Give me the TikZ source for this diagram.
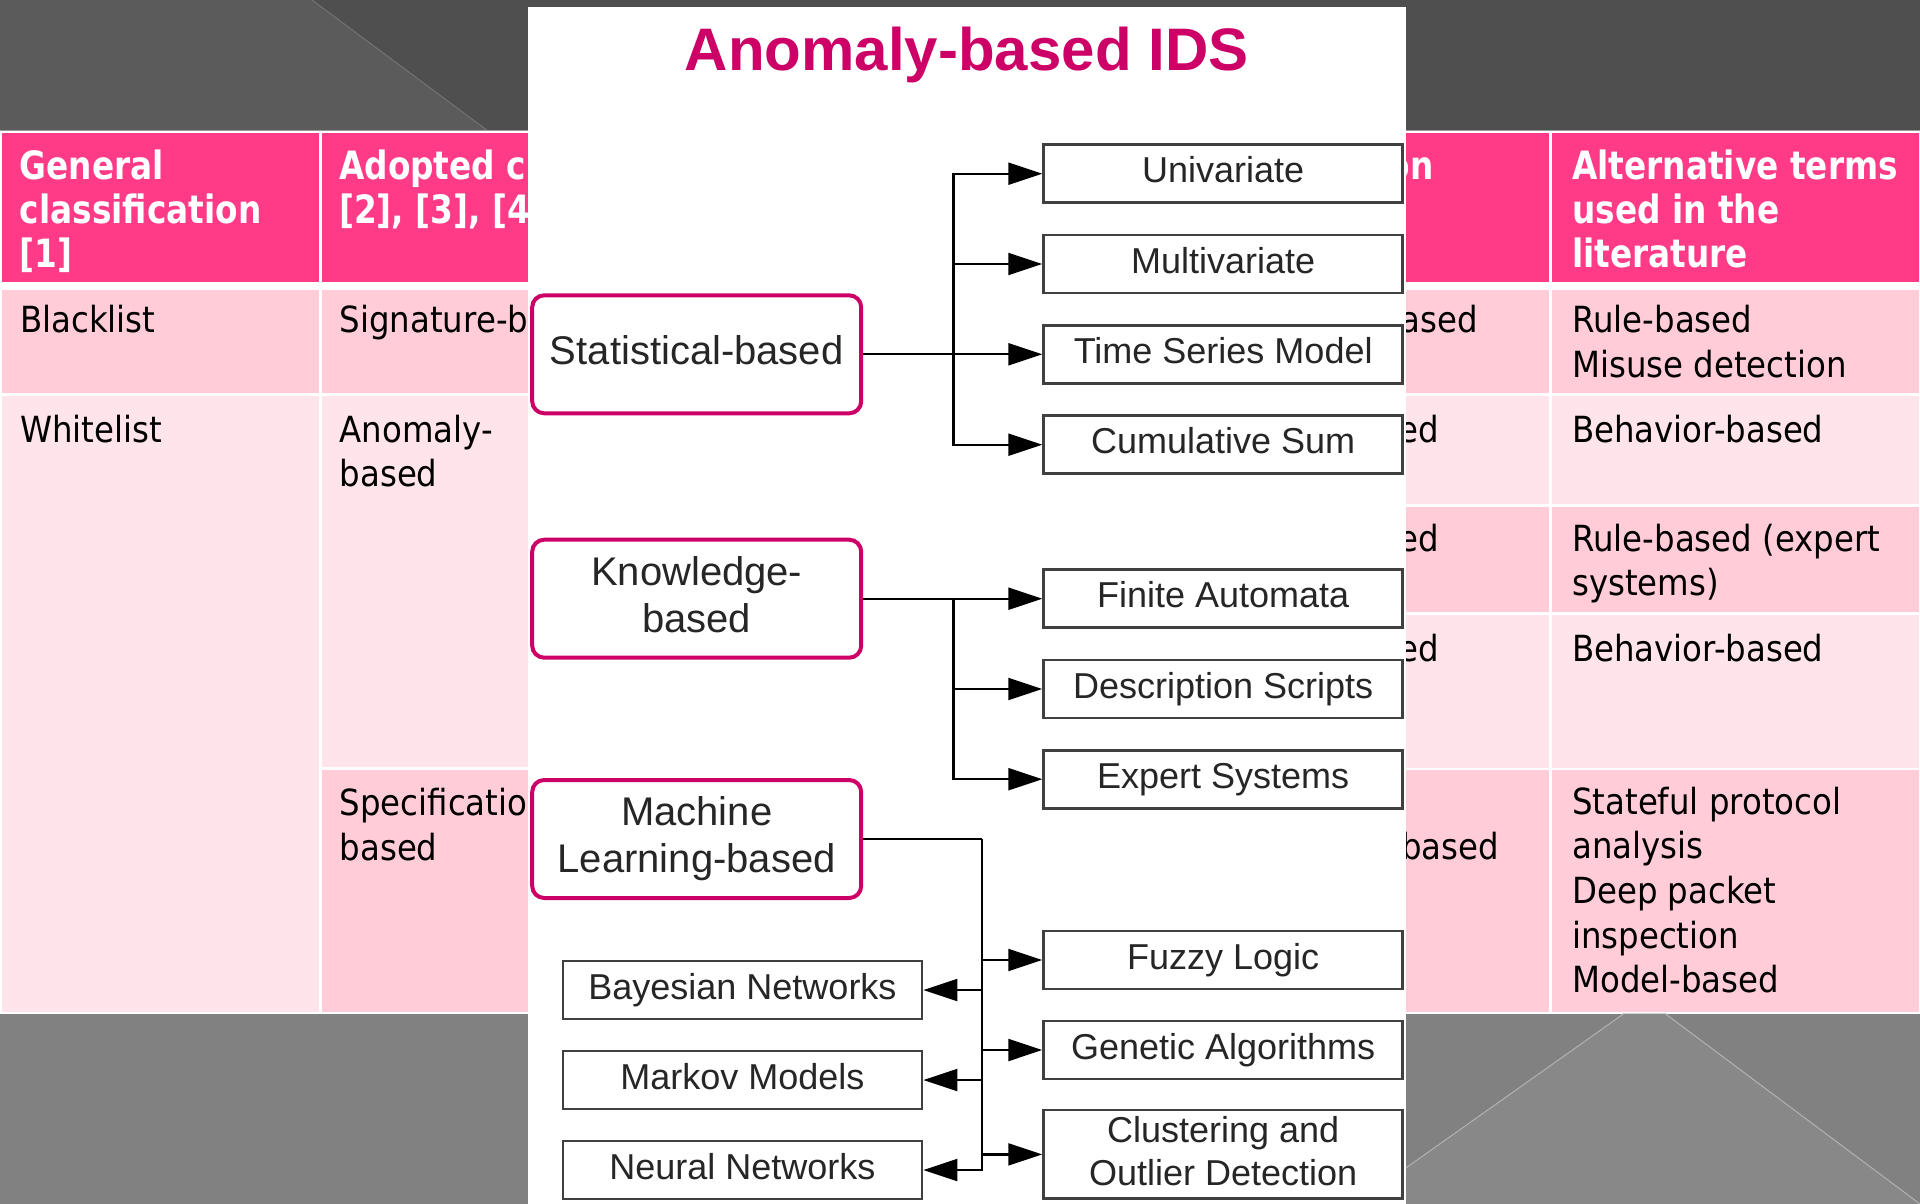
\documentclass[tikz,border=0pt]{standalone}
\usepackage{fontspec}
\usetikzlibrary{arrows.meta}
\newfontfamily\tabfont[FakeStretch=0.9]{DejaVu Sans}
\newfontfamily\hdrfont[FakeStretch=0.84]{DejaVu Sans}
\newfontfamily\dfont{Liberation Sans}
\definecolor{hdrpink}{HTML}{FF3A87}
\definecolor{rowdark}{HTML}{FFCCD8}
\definecolor{rowlight}{HTML}{FFE5EB}
\definecolor{mag}{HTML}{CC0066}
\definecolor{topdark}{HTML}{4F4F4F}
\definecolor{toplight}{HTML}{5B5B5B}
\definecolor{botgray}{HTML}{818181}
\definecolor{botlight}{HTML}{888888}
\begin{document}
\begin{tikzpicture}[x=1pt,y=-1pt,
  tab/.style={font=\tabfont\fontsize{36}{44}\selectfont, anchor=base west, inner sep=0pt, text=black},
  hdr/.style={font=\hdrfont\bfseries\fontsize{39}{44}\selectfont, anchor=base west, inner sep=0pt, text=white},
  bigbox/.style={draw=mag, line width=4pt, rounded corners=12pt, fill=white, minimum width=329pt, minimum height=118pt, align=center, font=\dfont\fontsize{40}{47}\selectfont, text=black!85, inner sep=0pt},
  rbox/.style={draw=black!75, line width=2.8pt, fill=white, minimum width=359pt, minimum height=58pt, align=center, font=\dfont\fontsize{36}{43}\selectfont, text=black!85, inner sep=0pt},
  sline/.style={text height=26pt, text depth=8pt},
  bline/.style={text height=29pt, text depth=8pt},
  arr/.style={draw=black, line width=2.2pt, -{Triangle[length=34pt,width=22pt]}},
  conn/.style={draw=black, line width=2.2pt}]
\useasboundingbox (0,0) rectangle (1920,1204);
% ---------- slide background ----------
\fill[topdark] (0,0) rectangle (1920,131);
\fill[toplight] (0,0) -- (312,0) -- (488,131) -- (0,131) -- cycle;
\draw[line width=1pt, color=black!55] (312,0) -- (488,131);
\fill[white] (0,131) rectangle (1920,1013.5);
\draw[line width=1.2pt, color=black!40] (0,130.5) -- (1920,130.5);
\fill[botgray] (0,1013.5) rectangle (1920,1204);
\fill[botlight] (1624,1013.5) -- (1665,1013.5) -- (1920,1204) -- (1355,1204) -- cycle;
\draw[line width=1pt, color=black!30] (1624,1013.5) -- (1355,1204);
\draw[line width=1pt, color=black!30] (1665,1013.5) -- (1920,1204);
% ---------- table cells ----------
\fill[hdrpink] (1.5,132.7) rectangle (318.5,281.7);
\fill[hdrpink] (321.5,132.7) rectangle (1548.7,281.7);
\fill[hdrpink] (1551.7,132.7) rectangle (1918.5,281.7);
\fill[rowdark] (1.5,290) rectangle (318.5,393.3);
\fill[rowdark] (321.5,290) rectangle (1548.7,393.3);
\fill[rowdark] (1551.7,290) rectangle (1918.5,393.3);
\fill[rowlight] (1.5,396.3) rectangle (318.5,1011.6);
\fill[rowlight] (321.5,396.3) rectangle (1000,767);
\fill[rowdark] (321.5,770) rectangle (1000,1011.6);
\foreach \xa/\xb in {1003/1548.7, 1551.7/1918.5}{
  \fill[rowlight] (\xa,396.3) rectangle (\xb,503.7);
  \fill[rowdark] (\xa,506.5) rectangle (\xb,611.8);
  \fill[rowlight] (\xa,615.2) rectangle (\xb,767.7);
  \fill[rowdark] (\xa,770.3) rectangle (\xb,1011.6);
}
% ---------- table texts ----------
\node[hdr] (h1a) at (19.6,179) {General};
\node[hdr] (h1b) at (19.6,223.3) {classification};
\node[hdr] (h1c) at (19.6,267.5) {[1]};
\node[hdr] (h2a) at (339,179) {Adopted c};
\node[hdr] (h2b) at (339,223.3) {[2], [3], [4};
\node[hdr, anchor=base east] (h3a) at (1434,179) {on};
\node[hdr] (h4a) at (1572,179) {Alternative terms};
\node[hdr] (h4b) at (1572,223.3) {used in the};
\node[hdr] (h4c) at (1572,267.5) {literature};
\node[tab] (r1a) at (20,332) {Blacklist};
\node[tab] (r1b) at (339.5,332) {Signature-b};
\node[tab, anchor=base east] (r1c) at (1478,332) {ased};
\node[tab] (r1d) at (1572,332) {Rule-based};
\node[tab] (r1e) at (1572,377) {Misuse detection};
\node[tab] (r2a) at (20,442) {Whitelist};
\node[tab] (r2b) at (339.5,442) {Anomaly-};
\node[tab] (r2c) at (339.5,486.7) {based};
\node[tab] (r2d) at (339.5,815.8) {Specificatio};
\node[tab] (r2e) at (339.5,860.5) {based};
\node[tab, anchor=base east] (f1) at (1439,442) {ed};
\node[tab, anchor=base east] (f2) at (1439,551) {ed};
\node[tab, anchor=base east] (f3) at (1439,661.6) {ed};
\node[tab, anchor=base east] (f4) at (1499,859) {based};
\node[tab] (c1) at (1572,442) {Behavior-based};
\node[tab] (c2) at (1572,551) {Rule-based (expert};
\node[tab] (c3) at (1572,595.7) {systems)};
\node[tab] (c4) at (1572,661.6) {Behavior-based};
\node[tab] (c5) at (1572,814) {Stateful protocol};
\node[tab] (c6) at (1572,858.7) {analysis};
\node[tab] (c7) at (1572,903.4) {Deep packet};
\node[tab] (c8) at (1572,948.1) {inspection};
\node[tab] (c9) at (1572,992.8) {Model-based};
% ---------- overlaid diagram ----------
\fill[white] (528,7) rectangle (1405.5,1204);
\node[font=\dfont\bfseries\fontsize{60}{62}\selectfont, text=mag, anchor=base, inner sep=0pt] (title) at (966.7,71) {Anomaly-based IDS};
\node[bigbox, bline] (stat) at (696.7,354.3) {Statistical-based};
\node[bigbox] (know) at (696.7,598.7) {Knowledge-\\based\vphantom{g}};
\node[bigbox] (ml) at (696.7,839) {Machine\\Learning-based};
\node[rbox, sline] (univ) at (1223.2,173.7) {Univariate};
\node[rbox, sline] (multi) at (1223.2,264) {Multivariate};
\node[rbox, sline] (tsm) at (1223.2,354.3) {Time Series Model};
\node[rbox, sline] (cusum) at (1223.2,444.7) {Cumulative Sum};
\node[rbox, sline] (fa) at (1223.2,598.7) {Finite Automata};
\node[rbox, sline] (ds) at (1223.2,689) {Description Scripts};
\node[rbox, sline] (es) at (1223.2,779.2) {Expert Systems};
\node[rbox, sline] (fuzzy) at (1223.2,960) {Fuzzy Logic};
\node[rbox, sline] (ga) at (1223.2,1050) {Genetic Algorithms};
\node[rbox, minimum height=88.7pt] (clus) at (1223.2,1154.4) {Clustering and\\Outlier Detection\vphantom{g}};
\node[rbox, sline] (bayes) at (742.5,990) {Bayesian Networks};
\node[rbox, sline] (markov) at (742.5,1080) {Markov Models};
\node[rbox, sline] (neural) at (742.5,1170) {Neural Networks};
\coordinate (st) at (953.4,354.3);
\coordinate (kt) at (953.4,598.7);
\coordinate (mt) at (982,839);
% connectors
\draw[arr] (stat.east) -- (tsm.west);
\draw[arr] (st) |- (univ.west);
\draw[arr] (st) |- (multi.west);
\draw[arr] (st) |- (cusum.west);
\draw[arr] (know.east) -- (fa.west);
\draw[arr] (kt) |- (ds.west);
\draw[arr] (kt) |- (es.west);
\draw[conn] (ml.east) -- (mt);
\draw[arr] (mt) |- (fuzzy.west);
\draw[arr] (mt) |- (ga.west);
\draw[arr] (mt) |- (clus.west);
\draw[arr] (mt) |- (bayes.east);
\draw[arr] (mt) |- (markov.east);
\draw[arr] (mt) |- (neural.east);
\end{tikzpicture}
\end{document}
